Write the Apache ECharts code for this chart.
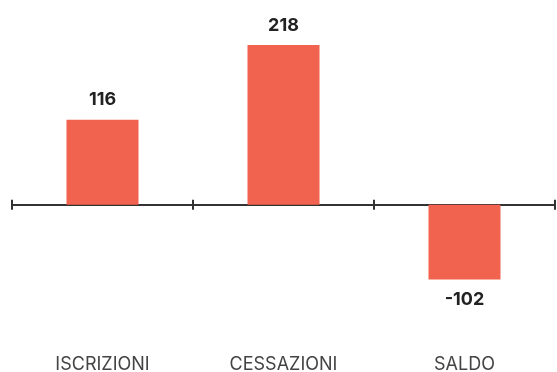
<!DOCTYPE html>
<html>
<head>
<meta charset="utf-8">
<script src="https://cdn.jsdelivr.net/npm/echarts@6/dist/echarts.min.js"></script>
<style>
html,body{margin:0;padding:0;background:#fff;}
#chart{width:557px;height:372px;}
</style>
</head>
<body>
<div id="chart"></div>
<script>
const categories = ['ISCRIZIONI', 'CESSAZIONI', 'SALDO'];
const values = [116, 218, -102];

const chart = echarts.init(document.getElementById('chart'));
const barColor = '#f2634f';
const axisColor = '#333333';

chart.setOption({
  animation: false,
  backgroundColor: '#ffffff',
  grid: { left: 12, right: 2, top: 29, bottom: 72, containLabel: false, outerBoundsMode: 'none' },
  xAxis: [
    {
      type: 'category',
      data: categories,
      position: 'bottom',
      axisLine: { onZero: true, onZeroAxisIndex: 0, lineStyle: { color: axisColor, width: 2 } },
      axisTick: { show: true, length: 5, lineStyle: { color: axisColor, width: 2 } },
      axisLabel: { show: false },
      splitLine: { show: false }
    },
    {
      type: 'category',
      data: categories,
      position: 'top',
      axisLine: { show: false, onZero: true, onZeroAxisIndex: 1 },
      axisTick: { show: true, length: 5, lineStyle: { color: axisColor, width: 2 } },
      axisLabel: { show: false },
      splitLine: { show: false }
    },
    {
      type: 'category',
      data: categories,
      position: 'bottom',
      axisLine: { show: false, onZero: false },
      axisTick: { show: false },
      axisLabel: { show: true, margin: 56, color: '#444', fontSize: 18, fontFamily: 'Inter, sans-serif' },
      splitLine: { show: false }
    }
  ],
  yAxis: [
    { type: 'value', min: -130, max: 240, show: false, splitLine: { show: false } },
    { type: 'value', min: -130, max: 240, show: false, splitLine: { show: false } }
  ],
  series: [{
    type: 'bar',
    xAxisIndex: 0,
    yAxisIndex: 0,
    barWidth: 72,
    itemStyle: { color: barColor },
    data: values.map(v => ({
      value: v,
      label: { position: v < 0 ? 'bottom' : 'top' }
    })),
    label: {
      show: true,
      distance: 11,
      color: '#222',
      fontSize: 18,
      fontWeight: 'bold',
      fontFamily: 'Inter, sans-serif'
    }
  }]
});
</script>
</body>
</html>
